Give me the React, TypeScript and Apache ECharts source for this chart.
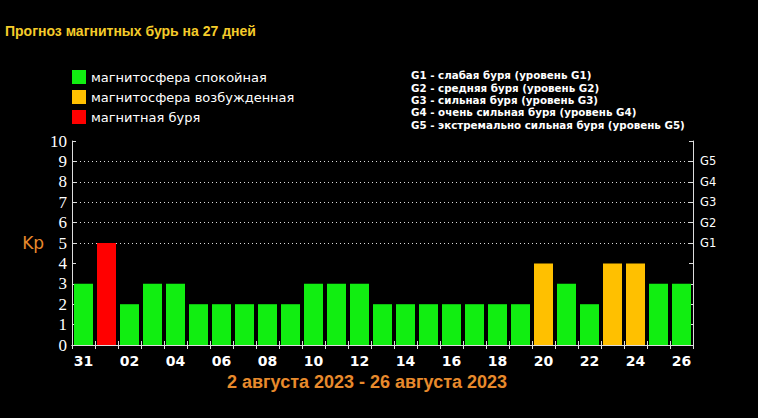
import React, { useEffect, useRef } from "react";
import * as echarts from "echarts";

const days = ["31","01","02","03","04","05","06","07","08","09","10","11","12","13","14","15","16","17","18","19","20","21","22","23","24","25","26"];
const kpValues = [3,5,2,3,3,2,2,2,2,2,3,3,3,2,2,2,2,2,2,2,4,3,2,4,4,3,3];
const classNames = ["магнитосфера спокойная", "магнитосфера возбужденная", "магнитная буря"];
const classColors = ["#11ee11", "#ffc000", "#ff0000"];
const gKp = [5, 6, 7, 8, 9];
const gLabels = ["G1", "G2", "G3", "G4", "G5"];
const gDescriptions = [
  "G1 - слабая буря (уровень G1)",
  "G2 - средняя буря (уровень G2)",
  "G3 - сильная буря (уровень G3)",
  "G4 - очень сильная буря (уровень G4)",
  "G5 - экстремально сильная буря (уровень G5)",
];
const chartTitle = "Прогноз магнитных бурь на 27 дней";
const periodText = "2 августа 2023 - 26 августа 2023";

function kpClass(v: number) {
  if (v >= 5) return 2;
  if (v === 4) return 1;
  return 0;
}

export default function App() {
  const ref = useRef<HTMLDivElement>(null);
  useEffect(() => {
    const chart = echarts.init(ref.current!, null, { renderer: "svg" });
    const series: any[] = classNames.map((name, ci) => ({
      name,
      type: "bar",
      xAxisIndex: 0,
      yAxisIndex: 0,
      barWidth: 19,
      barGap: "-100%",
      itemStyle: { color: classColors[ci] },
      data: kpValues.map((v) => (kpClass(v) === ci ? v : "-")),
      z: 3,
    }));
    series[0].markLine = {
      silent: true,
      symbol: "none",
      label: { show: false },
      lineStyle: { color: "#dddddd", type: [1, 3], width: 1 },
      data: gKp.map((v) => ({ yAxis: v })),
      z: 1,
    };
    const option: any = {
      animation: false,
      backgroundColor: "#000000",
      title: {
        text: chartTitle,
        left: 5,
        top: 24,
        padding: 0,
        textStyle: { color: "#f5cc2a", fontSize: 14, fontWeight: "bold", fontFamily: "Liberation Sans" },
      },
      legend: {
        data: classNames,
        orient: "vertical",
        left: 72,
        top: 70,
        padding: 0,
        itemWidth: 14,
        itemHeight: 14,
        itemGap: 6,
        icon: "rect",
        selectedMode: false,
        textStyle: { color: "#ffffff", fontSize: 13, fontFamily: "DejaVu Sans" },
      },
      grid: { left: 72, right: 65, top: 141, bottom: 73 },
      xAxis: [
        {
          type: "category",
          data: days,
          position: "bottom",
          axisLine: { lineStyle: { color: "#dddddd", width: 1 } },
          axisTick: { show: true, inside: true, length: 4, interval: 0, lineStyle: { color: "#dddddd" } },
          axisLabel: { interval: 1, color: "#ffffff", fontSize: 14, fontWeight: "bold", fontFamily: "DejaVu Sans", margin: 9 },
        },
        {
          type: "category",
          data: days,
          position: "top",
          axisLine: { lineStyle: { color: "#dddddd", width: 1 } },
          axisTick: { show: true, inside: true, length: 4, interval: 0, lineStyle: { color: "#dddddd" } },
          axisLabel: { show: false },
        },
      ],
      yAxis: [
        {
          type: "value",
          min: 0,
          max: 10,
          interval: 1,
          position: "left",
          name: "Kp",
          nameLocation: "middle",
          nameRotate: 0,
          nameGap: 27,
          nameTextStyle: { color: "#e88a2c", fontSize: 17, fontFamily: "DejaVu Sans" },
          axisLine: { show: true, lineStyle: { color: "#dddddd", width: 1 } },
          axisTick: { show: true, inside: true, length: 4, lineStyle: { color: "#dddddd" } },
          axisLabel: { color: "#ffffff", fontSize: 17, fontFamily: "Liberation Serif", margin: 5 },
          splitLine: { show: false },
        },
        {
          type: "value",
          min: 0,
          max: 10,
          interval: 1,
          position: "right",
          axisLine: { show: true, lineStyle: { color: "#dddddd", width: 1 } },
          axisTick: { show: true, inside: true, length: 4, lineStyle: { color: "#dddddd" } },
          axisLabel: {
            color: "#ffffff",
            fontSize: 11.5,
            fontFamily: "DejaVu Sans",
            margin: 7,
            formatter: (v: number) => {
              const i = gKp.indexOf(v);
              return i >= 0 ? gLabels[i] : "";
            },
          },
          splitLine: { show: false },
        },
      ],
      graphic: [
        {
          type: "text",
          left: 411,
          top: 69,
          style: {
            text: gDescriptions.join("\n"),
            fill: "#ffffff",
            font: "bold 10.3px 'DejaVu Sans'",
            lineHeight: 12.4,
          },
        },
        {
          type: "text",
          left: 227,
          top: 373,
          style: { text: periodText, fill: "#e88a2c", font: "bold 18px 'Liberation Sans'" },
        },
      ],
      series,
    };
    chart.setOption(option);
    return () => chart.dispose();
  }, []);
  return (
    <div
      ref={ref}
      style={{ position: "fixed", left: 0, top: 0, width: 758, height: 418, background: "#000" }}
    />
  );
}
